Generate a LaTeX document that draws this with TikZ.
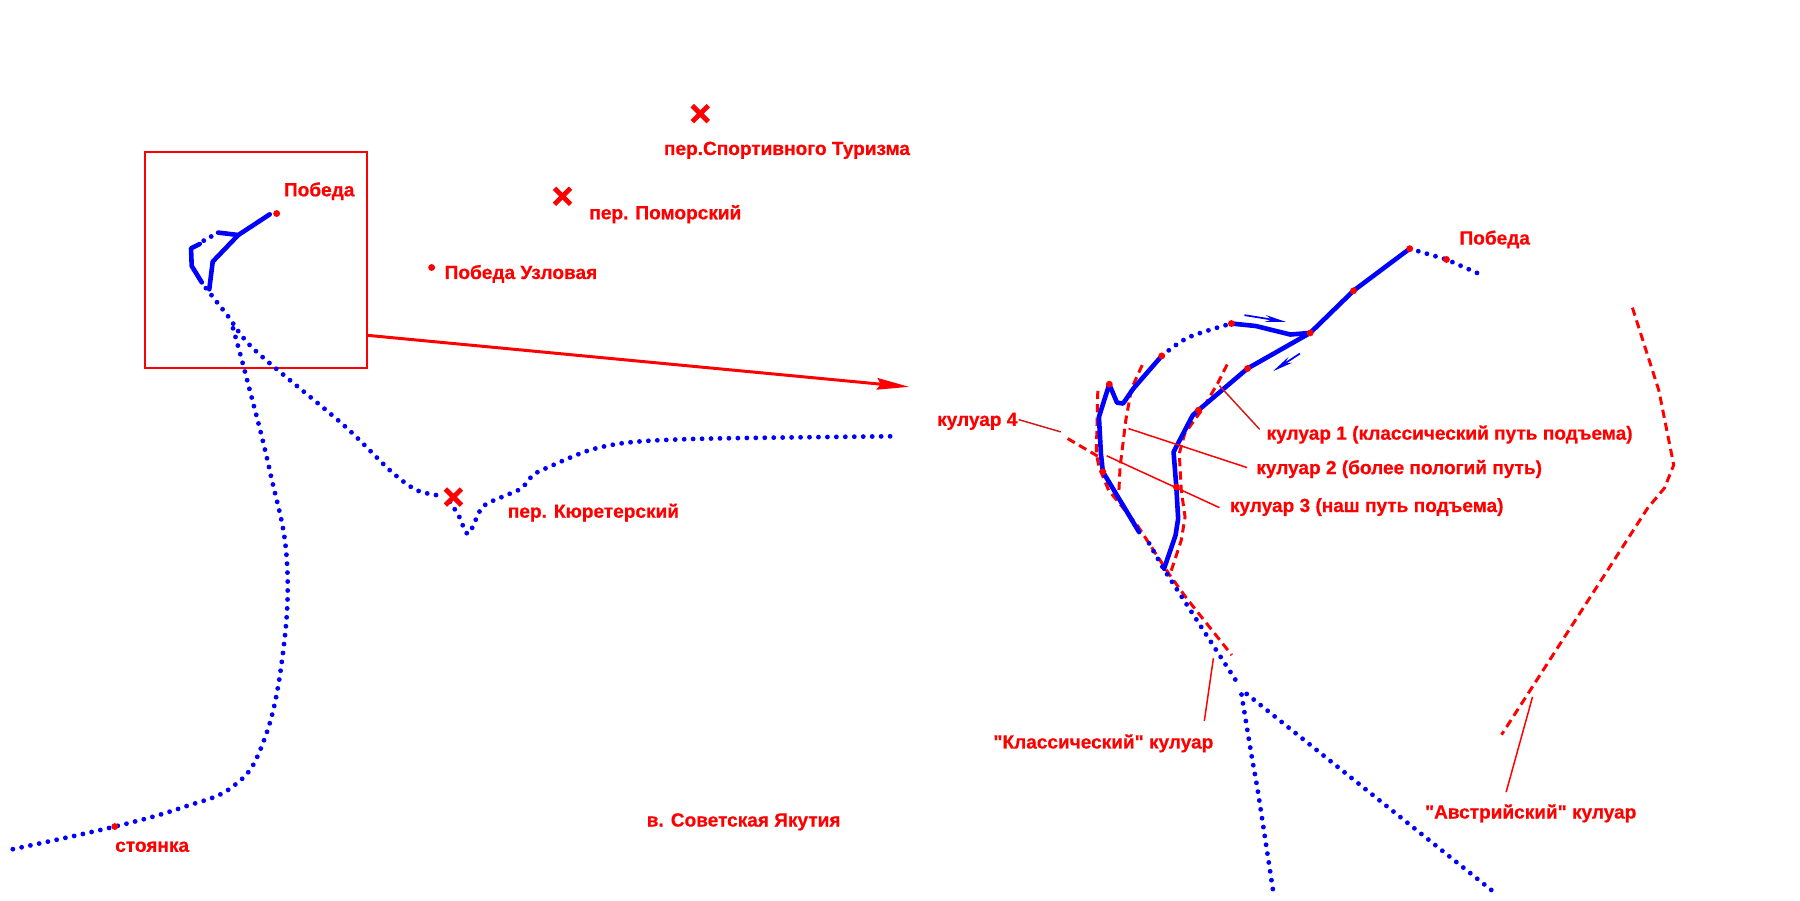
\documentclass[tikz,border=0pt]{standalone}
\usepackage{fontspec}
\newfontfamily\labfont[BoldFeatures={FakeBold=0.6}]{Liberation Sans}
\usetikzlibrary{arrows.meta}
\definecolor{rd}{RGB}{255,0,0}
\definecolor{bl}{RGB}{0,0,255}
\definecolor{dkrd}{RGB}{205,30,30}
\tikzset{
  x=0.5pt,y=-0.5pt,
  lab/.style={anchor=base west,inner sep=0pt,text=rd,font=\labfont\fontsize{8.3pt}{10pt}\selectfont\bfseries},
  rdot/.style={circle,fill=rd,inner sep=0pt,minimum size=3pt},
  solidpath/.style={draw=bl,line width=2pt,line join=round,line cap=round},
  dotpath/.style={draw=bl,line width=2.1pt,line cap=round,dash pattern=on 0pt off 3.9pt},
  dashpath/.style={draw=rd,line width=1.3pt,dash pattern=on 3.6pt off 2.2pt},
  leader/.style={draw=rd,line width=0.65pt},
  leaderdk/.style={draw=dkrd,line width=0.65pt},
  cross/.style={draw=rd,line width=2.1pt},
  smallarrow/.style={draw=bl,line width=0.75pt,-{Stealth[length=9pt,width=3pt]}},
}
\begin{document}
\begin{tikzpicture}
\useasboundingbox (0,0) rectangle (1568,784);
% inset frame and zoom arrow
\node[draw=rd,line width=0.9pt,inner sep=0pt,minimum width=96.5pt,minimum height=94pt,anchor=north west] (frame) at (125.5,131.5) {};
\coordinate (zoomstart) at (319,292);
\coordinate (zoomend) at (792,337);
\draw[draw=rd,line width=1.3pt,-{Stealth[length=14pt,width=5pt,inset=1.5pt]}] (zoomstart) -- (zoomend);
% overview: blue tracks
\draw[solidpath] (235,186.7) -- (207.6,204.7) -- (190,202.6);
\draw[solidpath] (207.6,204.7) -- (185.3,227.9) -- (182.3,252);
\draw[solidpath] (175.8,246) -- (167,231.7) -- (166.4,216.3) -- (174,212.5);
\fill[bl] (177.5,209.6) circle (1.05pt) (184,206) circle (1.05pt);
\draw[dotpath] plot[smooth,tension=0.5] coordinates {(179.4,251) (198.3,275) (222,305) (299,370) (340,410) (363,427) (385,432)};
\draw[dotpath] plot[smooth,tension=0.5] coordinates {(392,437) (400,450) (408,465) (420,442) (437,433) (454,425.5) (464.5,413.7) (477.6,407) (514,392) (551.6,385) (620,382) (782,380)};
\draw[dotpath] plot[smooth,tension=0.7] coordinates {(203,286) (215,330) (235,410) (250,490) (245,580) (228,650) (203,685) (160,703) (100,720) (5,741)};
% overview: markers
\node[rdot] (pobedaA) at (241,186) {};
\node[rdot] (uzl) at (376,233) {};
\node[rdot] (camp) at (100,720) {};
\foreach \n/\x/\y in {xsport/610/99, xpomor/490/171, xkyur/395/433}{
  \coordinate (\n) at (\x,\y);
  \draw[cross] (\x-7,\y-7) -- (\x+7,\y+7) (\x-7,\y+7) -- (\x+7,\y-7);
}
% detail: dashed couloirs
\draw[dashpath] plot coordinates {(1069,317.5) (1060.7,334) (1047,357) (1032,377.7) (1027.3,395) (1029,427) (1032.3,450.4) (1029,470.7) (1019,501)};
\draw[dashpath] plot coordinates {(995,318) (985.7,338.4) (980.7,366) (975.7,407) (974.7,427)};
\draw[dashpath] plot coordinates {(956.3,340.5) (955,395) (957.3,406.7) (965.7,427) (990.7,457.6) (1019,501) (1034,521.6) (1073,570.6)};
\draw[dashpath] plot coordinates {(930,382) (957.3,398)};
\draw[dashpath] plot coordinates {(1422,268) (1445,340) (1458,405) (1450,425) (1435,443) (1308,640)};
% detail: blue tracks
\draw[solidpath] (1228,216.6) -- (1179,253.3) -- (1141.3,290) -- (1124,291.4) -- (1094,284) -- (1072.7,281.8);
\draw[solidpath] (1141.3,290) -- (1086.7,321) -- (1044,357.3) -- (1039,361.7) -- (1022.3,393.7) -- (1024.7,424.2) -- (1026.3,451.8) -- (1024,466.4) -- (1014,495.4);
\draw[solidpath] (1012,310) -- (987.3,338.4) -- (978.3,351.5) -- (973,350.7) -- (966.3,334.7) -- (957.3,363.2) -- (959,395) -- (960.7,411) -- (992.3,463.5);
\draw[dotpath] plot[smooth] coordinates {(1012,310) (1035,294) (1072.7,281.8)};
\draw[dotpath] (1228,216.6) -- (1260,226) -- (1287.3,238);
\draw[dotpath] (1001,473.3) -- (1013.3,495) -- (1080,598);
\draw[dotpath] plot[smooth] coordinates {(1081.5,605) (1090.4,659) (1096,691) (1109,776)};
\draw[dotpath] (1086,604.5) -- (1300,776);
% small direction arrows
\coordinate (upA) at (1084,274.5);
\coordinate (upB) at (1120,280.3);
\coordinate (dnA) at (1132.3,308);
\coordinate (dnB) at (1109,323.3);
\draw[smallarrow] (upA) -- (upB);
\draw[smallarrow] (dnA) -- (dnB);
% detail: markers
\foreach \n/\x/\y in {m1/1228/216.6, m2/1260/226, m3/1179/253.3, m4/1141.3/290, m5/1072.7/281.8, m6/1012/310, m7/966.3/334.7, m8/1086.7/321, m9/1044/357.3, m10/1024.7/424.2, m11/960.7/411}{
  \node[rdot] (\n) at (\x,\y) {};
}
% labels
\node[lab] (lPobedaA) at (247,171) {Победа};
\node[lab] (lSport) at (578,135) {пер.Спортивного Туризма};
\node[lab] (lPomor) at (513,191) {пер. Поморский};
\node[lab] (lUzl) at (387,243) {Победа Узловая};
\node[lab] (lKyur) at (442,451) {пер. Кюретерский};
\node[lab] (lCamp) at (100,742) {стоянка};
\node[lab] (lSov) at (563,720) {в. Советская Якутия};
\node[lab] (lPobedaB) at (1271,213) {Победа};
\node[lab] (k1) at (1103,383) {кулуар 1 (классический путь подъема)};
\node[lab] (k2) at (1094,413) {кулуар 2 (более пологий путь)};
\node[lab] (k3) at (1071,446) {кулуар 3 (наш путь подъема)};
\node[lab] (k4) at (816,371) {кулуар 4};
\node[lab] (kClass) at (865,652) {"Классический" кулуар};
\node[lab] (kAustr) at (1241,713) {"Австрийский" кулуар};
% leaders
\coordinate (l1a) at (1062.3,336);
\coordinate (l1b) at (1097.3,374);
\coordinate (l2a) at (983,373.3);
\coordinate (l2b) at (1086.3,407.3);
\coordinate (l3a) at (964,397);
\coordinate (l3b) at (1062.3,442.2);
\coordinate (l4a) at (887.3,365.5);
\coordinate (l4b) at (924,376.2);
\coordinate (lca) at (1057,573.4);
\coordinate (lcb) at (1049.1,628);
\coordinate (laa) at (1335,607);
\coordinate (lab) at (1312,690);
\draw[leaderdk] (l1a) -- (l1b);
\draw[leader] (l2a) -- (l2b);
\draw[leader] (l3a) -- (l3b);
\draw[leaderdk] (l4a) -- (l4b);
\draw[leader] (lca) -- (lcb);
\draw[leader] (laa) -- (lab);
\end{tikzpicture}
\end{document}
